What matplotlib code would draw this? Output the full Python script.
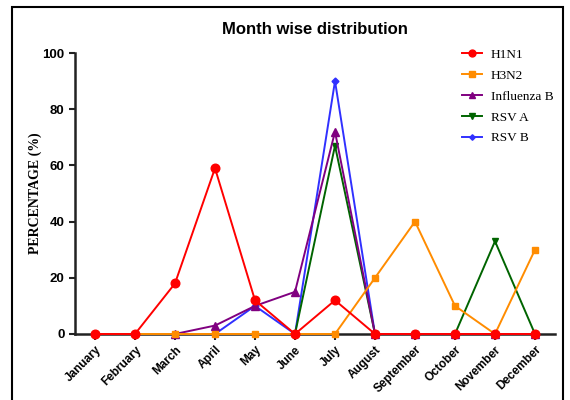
import matplotlib
matplotlib.use("Agg")
import matplotlib.pyplot as plt
from matplotlib.patches import Rectangle

nan = float("nan")
months = ["January", "February", "March", "April", "May", "June", "July",
          "August", "September", "October", "November", "December"]
h1n1 = [0, 0, 18, 59, 12, 0, 12, 0, 0, 0, 0, 0]
h3n2 = [0, 0, 0, 0, 0, 0, 0, 20, 40, 10, 0, 30]
flu_b = [nan, nan, 0, 3, 10, 15, 72, 0, 0, 0, 0, 0]
rsv_a = [nan, nan, nan, nan, nan, 0, 67, 0, 0, 0, 33, 0]
rsv_b = [nan, nan, nan, 0, 10, 0, 90, 0, 0, 0, 0, 0]
yticks = [0, 20, 40, 60, 80, 100]

fig = plt.figure(figsize=(5.7, 4.0), dpi=100)
ax = fig.add_axes([75/570, 66/400, 480/570, 281/400])

x = list(range(len(months)))
series = [
    ("H1N1", h1n1, "#ff0000", "o", 6.2, 6),
    ("H3N2", h3n2, "#ff8c00", "s", 5, 5),
    ("Influenza B", flu_b, "#800080", "^", 5.5, 4),
    ("RSV A", rsv_a, "#006400", "v", 5, 3),
    ("RSV B", rsv_b, "#3030ff", "D", 3.5, 2),
]
handles = []
for name, vals, col, mk, ms, z in series:
    h, = ax.plot(x, vals, color=col, marker=mk, markersize=ms, lw=1.4,
                 label=name, zorder=z, clip_on=False)
    handles.append(h)

ax.set_xlim(-0.5, 11.5)
ax.set_ylim(0, 100)
ax.set_yticks(yticks)
ax.set_yticklabels([str(v) for v in yticks], fontweight="bold", fontsize=9.5,
                   family="Liberation Sans")
ax.set_xticks(x)
ax.set_xticklabels(months, rotation=45, ha="right", rotation_mode="anchor",
                   fontweight="bold", fontsize=8.5, family="Liberation Sans")
for s in ["top", "right"]:
    ax.spines[s].set_visible(False)
for s in ["left", "bottom"]:
    ax.spines[s].set_linewidth(1.8)
    ax.spines[s].set_color("#222222")
    ax.spines[s].set_zorder(1)
ax.tick_params(axis="both", direction="out", width=1.5, length=4, color="#222222")
ax.tick_params(axis="x", pad=3)

ax.set_ylabel("PERCENTAGE (%)", family="Liberation Serif", fontweight="bold",
              fontsize=10, labelpad=0)
ax.set_title("Month wise distribution", family="Liberation Sans",
             fontweight="bold", fontsize=12, pad=14)

leg = fig.legend(handles=handles, loc="upper left",
                 bbox_to_anchor=(450/570, 1 - 37/400), frameon=False,
                 prop={"family": "Liberation Serif", "size": 9.5},
                 handlelength=1.5, labelspacing=0.65, handletextpad=0.7,
                 markerscale=0.8)

fig.patches.append(Rectangle((12/570, -0.05), (563-12)/570, 1.05 - 7/400,
                             transform=fig.transFigure, fill=False,
                             edgecolor="black", linewidth=1.5))

fig.savefig("out.png", dpi=100)
